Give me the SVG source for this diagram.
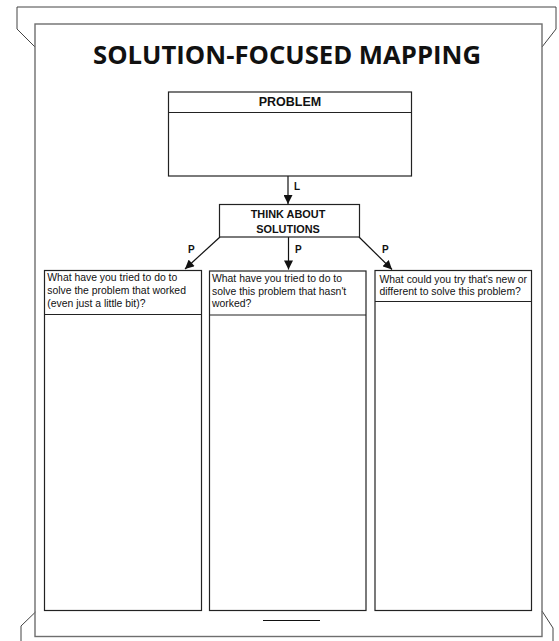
<svg xmlns="http://www.w3.org/2000/svg" width="559" height="641" viewBox="0 0 559 641">
<defs>
<style>
.frame{fill:none;stroke:#6e6e6e;stroke-width:1.4}
.fold{fill:none;stroke:#444;stroke-width:1}
.box{fill:#fff;stroke:#222;stroke-width:1.2}
.div{stroke:#222;stroke-width:1.2}
.edge{stroke:#111;stroke-width:1.2;fill:none}
.lbl{font-family:"Liberation Sans",Arial,sans-serif;font-weight:bold;fill:#111}
.q{font-family:"Liberation Sans",Arial,sans-serif;font-size:10.4px;fill:#111}
.title{font-family:"Open Sans","Liberation Sans",sans-serif;font-weight:bold;font-size:25px;fill:#111}
</style>
<marker id="ah" viewBox="0 0 10 10" refX="10" refY="5" markerWidth="10" markerHeight="9" markerUnits="userSpaceOnUse" orient="auto">
<path d="M0,0 L10,5 L0,10 Z" fill="#111"/>
</marker>
</defs>
<rect width="559" height="641" fill="#fff"/>
<g id="frame">
<path class="fold" d="M35,47 L17,29 L17,7 L556,7 L556,29 L542,47"/>
<path class="fold" d="M35.5,612 L21,626 L21,641"/>
<path class="fold" d="M542,611 L553,628 L553,641"/>
<rect class="frame" x="35" y="24" width="507" height="612.5"/>
<line x1="263" y1="620.5" x2="320" y2="620.5" stroke="#111" stroke-width="1.2"/>
</g>
<text class="title" x="93" y="63.5" textLength="388" lengthAdjust="spacingAndGlyphs">SOLUTION-FOCUSED MAPPING</text>
<g id="connectors">
<line class="edge" x1="288" y1="176" x2="288" y2="204" marker-end="url(#ah)"/>
<line class="edge" x1="220" y1="237" x2="185" y2="269" marker-end="url(#ah)"/>
<line class="edge" x1="288.5" y1="237" x2="288.5" y2="269.5" marker-end="url(#ah)"/>
<line class="edge" x1="359" y1="237" x2="392" y2="269.5" marker-end="url(#ah)"/>
<text class="lbl" font-size="10" x="294" y="190">L</text>
<text class="lbl" font-size="10" x="188" y="253">P</text>
<text class="lbl" font-size="10" x="295" y="253">P</text>
<text class="lbl" font-size="10" x="382" y="253">P</text>
</g>
<g id="problem">
<rect class="box" x="168.5" y="92" width="243" height="84"/>
<line class="div" x1="168.5" y1="112.5" x2="411.5" y2="112.5"/>
<text class="lbl" font-size="12.5" x="290" y="106.3" text-anchor="middle">PROBLEM</text>
</g>
<g id="think">
<rect class="box" x="219.5" y="204.5" width="140" height="32.5"/>
<text class="lbl" font-size="10.9" x="288" y="218.3" text-anchor="middle">THINK ABOUT</text>
<text class="lbl" font-size="10.9" x="288" y="233.3" text-anchor="middle">SOLUTIONS</text>
</g>
<g id="col1">
<rect class="box" x="44.5" y="270.5" width="157" height="340"/>
<line class="div" x1="44.5" y1="314.5" x2="201.5" y2="314.5"/>
<text class="q" x="47.3" y="281.3">What have you tried to do to</text>
<text class="q" x="47.3" y="294">solve the problem that worked</text>
<text class="q" x="47.3" y="306.5">(even just a little bit)?</text>
</g>
<g id="col2">
<rect class="box" x="209.5" y="271" width="156.5" height="339.5"/>
<line class="div" x1="209.5" y1="315" x2="366" y2="315"/>
<text class="q" x="212" y="282">What have you tried to do to</text>
<text class="q" x="212" y="294.5">solve this problem that hasn't</text>
<text class="q" x="212" y="307">worked?</text>
</g>
<g id="col3">
<rect class="box" x="375" y="270.5" width="156.5" height="340"/>
<line class="div" x1="375" y1="301.5" x2="531.5" y2="301.5"/>
<text class="q" x="379.5" y="282.7">What could you try that's new or</text>
<text class="q" x="379.5" y="295">different to solve this problem?</text>
</g>
</svg>
